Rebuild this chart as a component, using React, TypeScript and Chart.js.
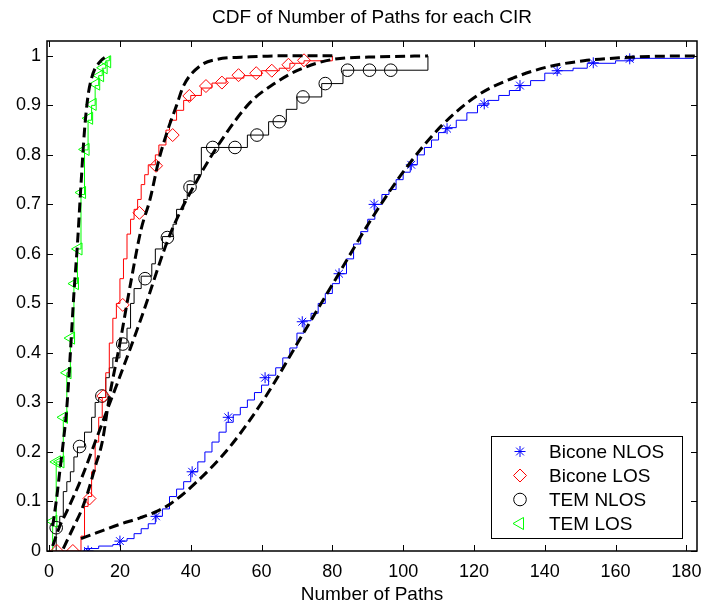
import React, { useEffect, useRef } from 'react';
import { Chart, registerables } from 'chart.js';

Chart.register(...registerables);

const titleText = 'CDF of Number of Paths for each CIR';
const xTitle = 'Number of Paths';
const xTicks = [0, 20, 40, 60, 80, 100, 120, 140, 160, 180];
const yTicks = [0, 0.1, 0.2, 0.3, 0.4, 0.5, 0.6, 0.7, 0.8, 0.9, 1];
const seriesNames = ['Bicone NLOS', 'Bicone LOS', 'TEM NLOS', 'TEM LOS'];

// Bicone NLOS (blue, *)
const bnStairX = [10, 10, 14, 18, 20, 22, 24, 26, 28, 30, 32, 34, 36, 38, 40, 42, 44, 46, 48, 50, 52, 54, 56, 58, 60, 62, 64, 66, 68, 70, 72, 74, 76, 78, 80, 82, 84, 86, 88, 90, 92, 94, 96, 98, 100, 102, 104, 106, 108, 110, 112, 115, 118, 121, 124, 127, 130, 133, 136, 140, 144, 148, 152, 160, 165, 182];
const bnStairY = [0, 0.005, 0.01, 0.013, 0.02, 0.025, 0.035, 0.045, 0.055, 0.07, 0.085, 0.11, 0.125, 0.14, 0.16, 0.18, 0.2, 0.22, 0.24, 0.26, 0.275, 0.29, 0.305, 0.32, 0.335, 0.355, 0.37, 0.39, 0.41, 0.44, 0.465, 0.48, 0.5, 0.52, 0.54, 0.56, 0.59, 0.62, 0.645, 0.67, 0.7, 0.72, 0.73, 0.75, 0.765, 0.78, 0.8, 0.815, 0.83, 0.845, 0.855, 0.87, 0.885, 0.9, 0.91, 0.92, 0.93, 0.94, 0.95, 0.965, 0.97, 0.975, 0.985, 0.99, 0.995, 1];
const bnMarkX = [11, 20, 30.2, 40.4, 50.6, 61, 71.5, 81.9, 91.8, 102.3, 112.4, 122.9, 133, 143.5, 153.7, 164];
const bnMarkY = [0, 0.02, 0.07, 0.16, 0.27, 0.35, 0.463, 0.56, 0.7, 0.78, 0.853, 0.903, 0.94, 0.97, 0.986, 0.994];
const bnFitX = [9, 13.5, 20, 25.7, 30.4, 34.2, 41, 51, 61, 71, 81, 91, 101, 111, 121, 131, 141, 151, 161, 171, 183];
const bnFitY = [0.025, 0.037, 0.054, 0.067, 0.08, 0.095, 0.135, 0.21, 0.31, 0.43, 0.55, 0.67, 0.775, 0.86, 0.92, 0.955, 0.978, 0.99, 0.996, 0.999, 1];

// Bicone LOS (red, diamond)
const blStairX = [0, 9, 10, 11, 12, 13, 14, 15, 16, 17, 18, 19, 20, 21, 22, 23, 24, 25, 26, 27, 28, 30, 31, 33, 34, 36, 38, 40, 43, 46, 50, 55, 60, 65, 68, 72, 80];
const blStairY = [0, 0.03, 0.09, 0.11, 0.16, 0.22, 0.27, 0.31, 0.36, 0.42, 0.47, 0.5, 0.55, 0.59, 0.64, 0.67, 0.69, 0.71, 0.74, 0.76, 0.78, 0.8, 0.82, 0.85, 0.87, 0.89, 0.91, 0.92, 0.935, 0.945, 0.955, 0.96, 0.97, 0.975, 0.985, 0.99, 1];
const blMarkX = [2.2, 6.7, 11.4, 15.3, 20.8, 25.5, 30.2, 34.9, 39.6, 44.3, 48.8, 53.5, 58.5, 62.9, 67.6, 72];
const blMarkY = [0, 0, 0.106, 0.313, 0.497, 0.683, 0.778, 0.84, 0.919, 0.939, 0.946, 0.961, 0.965, 0.97, 0.982, 0.991];
const blFitX = [4, 7, 9, 11, 13, 15, 17, 20, 23, 26, 28.5, 31, 33.5, 36, 38, 42.7, 47.4, 56.8, 65, 80];
const blFitY = [0.005, 0.05, 0.08, 0.12, 0.17, 0.22, 0.31, 0.42, 0.54, 0.65, 0.71, 0.79, 0.85, 0.9, 0.94, 0.98, 0.993, 0.998, 1, 1];

// TEM NLOS (black, circle)
const tnStairX = [2, 2, 3, 4, 5, 6, 7, 8, 10, 12, 13, 14, 16, 17, 18, 20, 22, 23, 24, 26, 29, 30, 32, 35, 36, 38, 39, 41, 43, 56, 62, 67, 70, 77, 83, 107];
const tnStairY = [0, 0.05, 0.07, 0.12, 0.14, 0.16, 0.19, 0.21, 0.24, 0.27, 0.3, 0.31, 0.35, 0.37, 0.39, 0.42, 0.45, 0.5, 0.53, 0.555, 0.58, 0.61, 0.635, 0.66, 0.69, 0.71, 0.74, 0.76, 0.815, 0.84, 0.867, 0.892, 0.917, 0.944, 0.971, 1];
const tnMarkX = [2, 8.6, 14.9, 20.8, 27.1, 33.4, 39.8, 46.2, 52.5, 58.7, 65, 71.7, 78, 84.3, 90.5, 96.5];
const tnMarkY = [0.047, 0.211, 0.313, 0.418, 0.55, 0.633, 0.735, 0.815, 0.815, 0.84, 0.867, 0.917, 0.944, 0.971, 0.971, 0.971];
const tnFitX = [1, 3, 5, 9.2, 13, 17.2, 19.5, 26, 34.2, 42.7, 49.2, 56.8, 63.4, 70, 80.3, 93.5, 107];
const tnFitY = [0.01, 0.05, 0.08, 0.148, 0.22, 0.3, 0.343, 0.47, 0.64, 0.76, 0.835, 0.906, 0.943, 0.97, 0.993, 0.998, 1];

// TEM LOS (green, left triangle)
const tlStairX = [1, 1, 2, 4, 5, 6, 7, 8, 9, 10, 11, 12, 13, 14, 15, 16, 17];
const tlStairY = [0, 0.06, 0.18, 0.27, 0.36, 0.43, 0.54, 0.61, 0.72, 0.81, 0.87, 0.9, 0.94, 0.96, 0.975, 0.99, 1];
const tlMarkX = [1.2, 2.2, 3.2, 4.2, 5.2, 6.2, 7.3, 8.3, 9.3, 10.3, 11.3, 12.3, 13.3, 14.4, 15.4, 16.4];
const tlMarkY = [0.06, 0.18, 0.18, 0.27, 0.36, 0.43, 0.54, 0.61, 0.724, 0.811, 0.874, 0.902, 0.943, 0.96, 0.976, 0.988];
const tlFitX = [1, 2, 3, 4, 5, 6, 7, 8, 9, 10, 11, 12, 13, 14, 15, 16, 17];
const tlFitY = [0.05, 0.1, 0.16, 0.22, 0.29, 0.4, 0.52, 0.62, 0.74, 0.85, 0.92, 0.955, 0.975, 0.985, 0.993, 0.998, 1];

const BLUE = '#0000ff';
const RED = '#ff0000';
const BLACK = '#000000';
const GREEN = '#00ff00';
const FONT = '"Liberation Sans", Arial, Helvetica, sans-serif';

const pts = (xs: number[], ys: number[]) => xs.map((x, i) => ({ x, y: ys[i] }));

const markerStyles = [
  { color: BLUE, style: 'star', radius: 5.5, rotation: 0 },
  { color: RED, style: 'rectRot', radius: 6.5, rotation: 0 },
  { color: BLACK, style: 'circle', radius: 6.3, rotation: 0 },
  { color: GREEN, style: 'triangle', radius: 7, rotation: -90 },
];

function stairDs(xs: number[], ys: number[], color: string) {
  return {
    data: pts(xs, ys),
    borderColor: color,
    borderWidth: 1,
    pointRadius: 0,
    stepped: 'before' as const,
    fill: false,
    order: 3,
  };
}
function markDs(xs: number[], ys: number[], idx: number) {
  const m = markerStyles[idx];
  return {
    data: pts(xs, ys),
    borderColor: m.color,
    backgroundColor: 'rgba(0,0,0,0)',
    showLine: false,
    pointStyle: m.style,
    pointRadius: m.radius,
    pointRotation: m.rotation,
    pointBorderWidth: 1,
    pointBorderColor: m.color,
    pointBackgroundColor: 'rgba(0,0,0,0)',
    order: 2,
  };
}
function fitDs(xs: number[], ys: number[]) {
  return {
    data: pts(xs, ys),
    borderColor: BLACK,
    borderWidth: 3,
    borderDash: [10, 5],
    pointRadius: 0,
    cubicInterpolationMode: 'monotone' as const,
    fill: false,
    order: 1,
  };
}

function drawMarker(ctx: CanvasRenderingContext2D, style: string, r: number, rot: number, x: number, y: number) {
  ctx.beginPath();
  if (style === 'star') {
    for (let k = 0; k < 4; k++) {
      const ang = (k * Math.PI) / 4;
      ctx.moveTo(x - Math.cos(ang) * r, y - Math.sin(ang) * r);
      ctx.lineTo(x + Math.cos(ang) * r, y + Math.sin(ang) * r);
    }
  } else if (style === 'rectRot') {
    ctx.moveTo(x, y - r);
    ctx.lineTo(x + r, y);
    ctx.lineTo(x, y + r);
    ctx.lineTo(x - r, y);
    ctx.closePath();
  } else if (style === 'circle') {
    ctx.arc(x, y, r, 0, Math.PI * 2);
  } else if (style === 'triangle') {
    const base = (rot * Math.PI) / 180;
    for (let k = 0; k < 3; k++) {
      const ang = base + (k * 2 * Math.PI) / 3;
      const px = x + Math.sin(ang) * r;
      const py = y - Math.cos(ang) * r;
      if (k === 0) ctx.moveTo(px, py);
      else ctx.lineTo(px, py);
    }
    ctx.closePath();
  }
  ctx.stroke();
}

const framePlugin = {
  id: 'matlabFrame',
  afterDraw(chart: any) {
    const { ctx, chartArea: a, scales } = chart;
    const xs = scales.x;
    const ys = scales.y;
    ctx.save();
    // title centred over the axes box
    ctx.fillStyle = '#000';
    ctx.font = '19px ' + FONT;
    ctx.textAlign = 'center';
    ctx.textBaseline = 'middle';
    ctx.fillText(titleText, (a.left + a.right) / 2, 18);

    ctx.strokeStyle = '#000';
    ctx.lineWidth = 1.5;
    ctx.beginPath();
    ctx.rect(a.left, a.top, a.right - a.left, a.bottom - a.top);
    ctx.stroke();
    const tl = 6;
    ctx.lineWidth = 1;
    ctx.beginPath();
    xTicks.forEach((v) => {
      const px = Math.round(xs.getPixelForValue(v)) + 0.5;
      ctx.moveTo(px, a.bottom);
      ctx.lineTo(px, a.bottom - tl);
      ctx.moveTo(px, a.top);
      ctx.lineTo(px, a.top + tl);
    });
    yTicks.forEach((v) => {
      const py = Math.round(ys.getPixelForValue(v)) + 0.5;
      ctx.moveTo(a.left, py);
      ctx.lineTo(a.left + tl, py);
      ctx.moveTo(a.right, py);
      ctx.lineTo(a.right - tl, py);
    });
    ctx.stroke();

    // legend
    const bx = 491.5, by = 436.5, bw = 191, bh = 102;
    ctx.fillStyle = '#fff';
    ctx.fillRect(bx, by, bw, bh);
    ctx.lineWidth = 1;
    ctx.strokeRect(bx, by, bw, bh);
    const rowY = [451.5, 475.5, 499.5, 523.5];
    ctx.font = '19px ' + FONT;
    ctx.textBaseline = 'middle';
    ctx.textAlign = 'left';
    seriesNames.forEach((name, i) => {
      const m = markerStyles[i];
      ctx.save();
      ctx.strokeStyle = m.color;
      ctx.lineWidth = 1;
      drawMarker(ctx, m.style, m.radius, m.rotation, 520, rowY[i]);
      ctx.restore();
      ctx.fillStyle = '#000';
      ctx.fillText(name, 549, rowY[i] + 1);
    });
    ctx.restore();
  },
};

export default function App() {
  const ref = useRef<HTMLCanvasElement | null>(null);
  useEffect(() => {
    if (!ref.current) return;
    const chart = new Chart(ref.current, {
      type: 'line',
      data: {
        datasets: [
          fitDs(bnFitX, bnFitY),
          fitDs(blFitX, blFitY),
          fitDs(tnFitX, tnFitY),
          fitDs(tlFitX, tlFitY),
          markDs(bnMarkX, bnMarkY, 0),
          markDs(blMarkX, blMarkY, 1),
          markDs(tnMarkX, tnMarkY, 2),
          markDs(tlMarkX, tlMarkY, 3),
          stairDs(bnStairX, bnStairY, BLUE),
          stairDs(blStairX, blStairY, RED),
          stairDs(tnStairX, tnStairY, BLACK),
          stairDs(tlStairX, tlStairY, GREEN),
        ] as any,
      },
      options: {
        animation: false,
        responsive: false,
        devicePixelRatio: 1,
        layout: { padding: { left: 0, right: 8, top: 41, bottom: 0 } },
        plugins: {
          legend: { display: false },
          tooltip: { enabled: false },
          title: { display: false },
        },
        scales: {
          x: {
            type: 'linear',
            min: -0.6,
            max: 183,
            afterBuildTicks: (s: any) => { s.ticks = xTicks.map((v) => ({ value: v })); },
            afterFit: (s: any) => { s.height = 57; s.paddingLeft = 0; s.paddingRight = 0; },
            grid: { display: false, drawTicks: false },
            border: { display: false },
            ticks: { autoSkip: false, maxRotation: 0, color: '#000', padding: 10, font: { family: FONT, size: 18 } },
            title: { display: true, text: xTitle, color: '#000', font: { family: FONT, size: 19 }, padding: { top: 0, bottom: 2 } },
          },
          y: {
            type: 'linear',
            min: 0,
            max: 1.03,
            afterBuildTicks: (s: any) => { s.ticks = yTicks.map((v) => ({ value: v })); },
            afterFit: (s: any) => { s.width = 47; s.paddingTop = 0; s.paddingBottom = 0; },
            grid: { display: false, drawTicks: false },
            border: { display: false },
            ticks: { autoSkip: false, color: '#000', padding: 6, font: { family: FONT, size: 18 }, callback: (v: any) => String(v) },
          },
        },
      } as any,
      plugins: [framePlugin],
    });
    return () => chart.destroy();
  }, []);
  return (
    <div style={{ position: 'fixed', left: 0, top: 0, width: 705, height: 608, background: '#fff' }}>
      <canvas ref={ref} width={705} height={608} style={{ width: 705, height: 608 }} />
    </div>
  );
}
